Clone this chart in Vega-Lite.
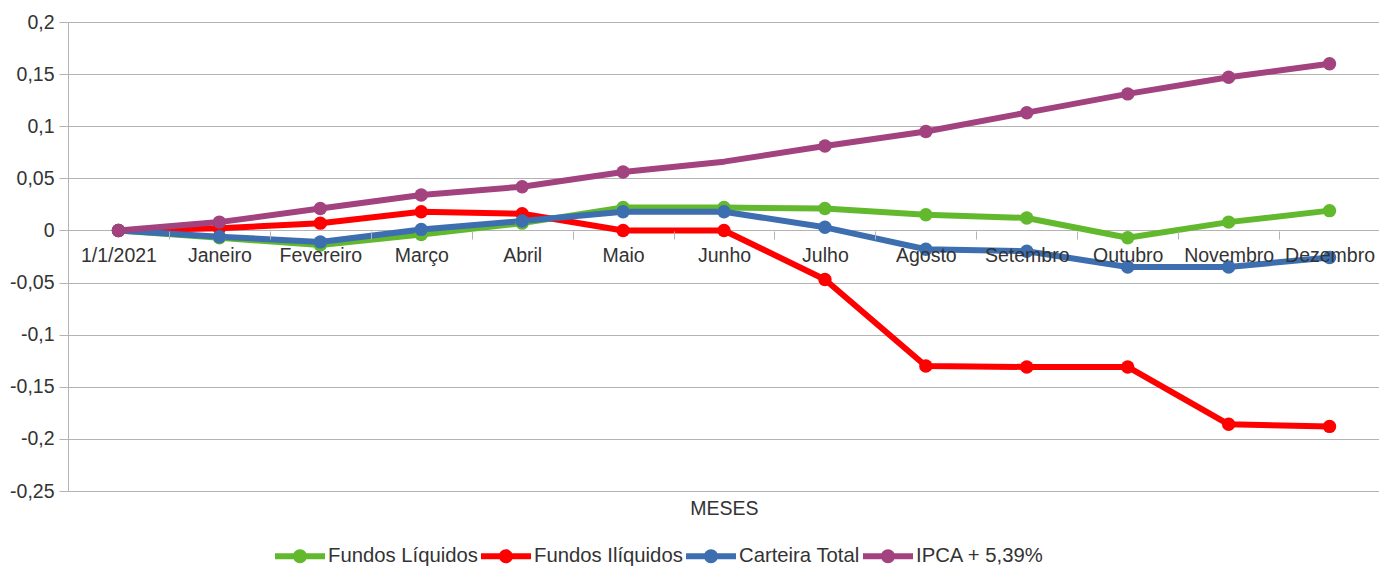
{
  "$schema": "https://vega.github.io/schema/vega-lite/v6.json",
  "width": 1312,
  "height": 469,
  "autosize": {"type": "none"},
  "padding": {"left": 68, "top": 22, "right": 0, "bottom": 75},
  "background": "white",
  "config": {"view": {"stroke": null}, "font": "Liberation Sans"},
  "data": {"values": [
    {"mes": "1/1/2021", "serie": "Fundos Líquidos", "valor": 0},
    {"mes": "Janeiro", "serie": "Fundos Líquidos", "valor": -0.007},
    {"mes": "Fevereiro", "serie": "Fundos Líquidos", "valor": -0.014},
    {"mes": "Março", "serie": "Fundos Líquidos", "valor": -0.004},
    {"mes": "Abril", "serie": "Fundos Líquidos", "valor": 0.007},
    {"mes": "Maio", "serie": "Fundos Líquidos", "valor": 0.022},
    {"mes": "Junho", "serie": "Fundos Líquidos", "valor": 0.022},
    {"mes": "Julho", "serie": "Fundos Líquidos", "valor": 0.021},
    {"mes": "Agosto", "serie": "Fundos Líquidos", "valor": 0.015},
    {"mes": "Setembro", "serie": "Fundos Líquidos", "valor": 0.012},
    {"mes": "Outubro", "serie": "Fundos Líquidos", "valor": -0.007},
    {"mes": "Novembro", "serie": "Fundos Líquidos", "valor": 0.008},
    {"mes": "Dezembro", "serie": "Fundos Líquidos", "valor": 0.019},
    {"mes": "1/1/2021", "serie": "Fundos Ilíquidos", "valor": 0},
    {"mes": "Janeiro", "serie": "Fundos Ilíquidos", "valor": 0.002},
    {"mes": "Fevereiro", "serie": "Fundos Ilíquidos", "valor": 0.007},
    {"mes": "Março", "serie": "Fundos Ilíquidos", "valor": 0.018},
    {"mes": "Abril", "serie": "Fundos Ilíquidos", "valor": 0.016},
    {"mes": "Maio", "serie": "Fundos Ilíquidos", "valor": 0},
    {"mes": "Junho", "serie": "Fundos Ilíquidos", "valor": 0},
    {"mes": "Julho", "serie": "Fundos Ilíquidos", "valor": -0.047},
    {"mes": "Agosto", "serie": "Fundos Ilíquidos", "valor": -0.13},
    {"mes": "Setembro", "serie": "Fundos Ilíquidos", "valor": -0.131},
    {"mes": "Outubro", "serie": "Fundos Ilíquidos", "valor": -0.131},
    {"mes": "Novembro", "serie": "Fundos Ilíquidos", "valor": -0.186},
    {"mes": "Dezembro", "serie": "Fundos Ilíquidos", "valor": -0.188},
    {"mes": "1/1/2021", "serie": "Carteira Total", "valor": 0},
    {"mes": "Janeiro", "serie": "Carteira Total", "valor": -0.006},
    {"mes": "Fevereiro", "serie": "Carteira Total", "valor": -0.011},
    {"mes": "Março", "serie": "Carteira Total", "valor": 0.001},
    {"mes": "Abril", "serie": "Carteira Total", "valor": 0.009},
    {"mes": "Maio", "serie": "Carteira Total", "valor": 0.018},
    {"mes": "Junho", "serie": "Carteira Total", "valor": 0.018},
    {"mes": "Julho", "serie": "Carteira Total", "valor": 0.003},
    {"mes": "Agosto", "serie": "Carteira Total", "valor": -0.018},
    {"mes": "Setembro", "serie": "Carteira Total", "valor": -0.02},
    {"mes": "Outubro", "serie": "Carteira Total", "valor": -0.035},
    {"mes": "Novembro", "serie": "Carteira Total", "valor": -0.035},
    {"mes": "Dezembro", "serie": "Carteira Total", "valor": -0.026},
    {"mes": "1/1/2021", "serie": "IPCA + 5,39%", "valor": 0},
    {"mes": "Janeiro", "serie": "IPCA + 5,39%", "valor": 0.008},
    {"mes": "Fevereiro", "serie": "IPCA + 5,39%", "valor": 0.021},
    {"mes": "Março", "serie": "IPCA + 5,39%", "valor": 0.034},
    {"mes": "Abril", "serie": "IPCA + 5,39%", "valor": 0.042},
    {"mes": "Maio", "serie": "IPCA + 5,39%", "valor": 0.056},
    {"mes": "Junho", "serie": "IPCA + 5,39%", "valor": 0.066},
    {"mes": "Julho", "serie": "IPCA + 5,39%", "valor": 0.081},
    {"mes": "Agosto", "serie": "IPCA + 5,39%", "valor": 0.095},
    {"mes": "Setembro", "serie": "IPCA + 5,39%", "valor": 0.113},
    {"mes": "Outubro", "serie": "IPCA + 5,39%", "valor": 0.131},
    {"mes": "Novembro", "serie": "IPCA + 5,39%", "valor": 0.147},
    {"mes": "Dezembro", "serie": "IPCA + 5,39%", "valor": 0.16}
  ]},
  "encoding": {
    "x": {
      "field": "mes", "type": "ordinal",
      "sort": ["1/1/2021", "Janeiro", "Fevereiro", "Março", "Abril", "Maio", "Junho", "Julho", "Agosto", "Setembro", "Outubro", "Novembro", "Dezembro"],
      "scale": {"type": "band", "paddingInner": 0, "paddingOuter": 0},
      "axis": {
        "title": "MESES", "offset": -260, "domain": false, "grid": false,
        "ticks": true, "tickBand": "extent", "tickColor": "#b3b3b3", "tickSize": 8,
        "labelAngle": 0, "labelFontSize": 19.5, "labelColor": "#333333", "labelPadding": 7,
        "labelOverlap": false, "labelBound": false, "labelFlush": false,
        "zindex": 1,
        "titleFontSize": 19.5, "titleFontWeight": "normal", "titleColor": "#333333",
        "titleY": 268, "titleBaseline": "top"
      }
    },
    "y": {
      "field": "valor", "type": "quantitative",
      "scale": {"domain": [-0.25, 0.2], "nice": false, "zero": false},
      "axis": {
        "title": null,
        "values": [-0.25, -0.2, -0.15, -0.1, -0.05, 0, 0.05, 0.1, 0.15, 0.2],
        "labelExpr": "replace(toString(round(datum.value*100)/100), '.', ',')",
        "domainColor": "#b3b3b3", "tickColor": "#b3b3b3", "tickSize": 9,
        "gridColor": "#b3b3b3", "gridOpacity": 1,
        "labelFontSize": 19.5, "labelColor": "#333333", "labelPadding": 5
      }
    },
    "color": {
      "field": "serie", "type": "nominal",
      "scale": {"domain": ["Fundos Líquidos", "Fundos Ilíquidos", "Carteira Total", "IPCA + 5,39%"], "range": ["#62b92e", "#ff0000", "#3c6eb0", "#a2437f"]},
      "legend": {
        "orient": "none", "legendX": 207, "legendY": 509, "direction": "horizontal", "columns": 4,
        "title": null,
        "symbolType": "M-1,-0.12H1V0.12H-1Z M-0.28,0A0.28,0.28,0,1,1,0.28,0A0.28,0.28,0,1,1,-0.28,0Z",
        "symbolSize": 2500, "symbolStrokeWidth": 0,
        "labelFontSize": 20.3, "labelColor": "#333333", "labelOffset": 3, "columnPadding": 3, "labelLimit": 400,
        "encode": {"symbols": {"update": {"fill": {"scale": "color", "field": "value"}, "stroke": {"value": "transparent"}, "opacity": {"value": 1}}}}
      }
    }
  },
  "layer": [
    {"mark": {"type": "line", "strokeWidth": 6, "strokeJoin": "round", "strokeCap": "butt"}},
    {
      "transform": [{"filter": "!(datum.serie == 'IPCA + 5,39%' && datum.mes == 'Junho')"}],
      "mark": {"type": "point", "filled": true, "size": 180, "opacity": 1}
    }
  ]
}
